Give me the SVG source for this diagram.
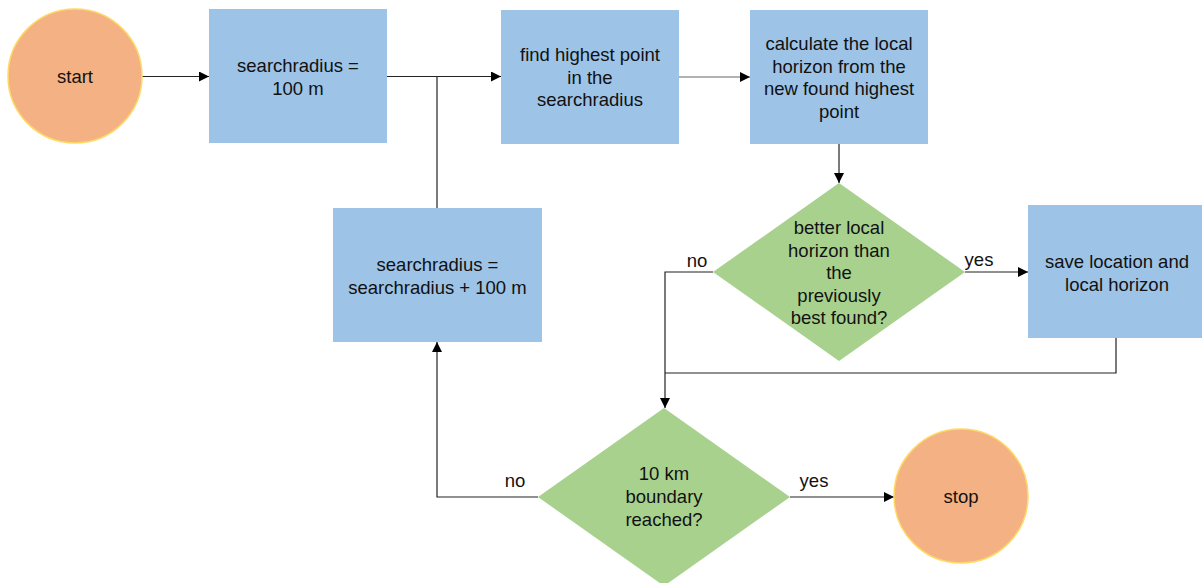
<svg xmlns="http://www.w3.org/2000/svg" width="1202" height="583" viewBox="0 0 1202 583">
<defs>
<marker id="arr" viewBox="0 0 10 10" refX="10" refY="5" markerWidth="10" markerHeight="10" markerUnits="userSpaceOnUse" orient="auto">
<path d="M0,0 L10,5 L0,10 Z" fill="#000"/>
</marker>
<style>
.box{fill:#9DC3E6;}
.dia{fill:#A9D18E;}
.term{fill:#F4B183;stroke:#FFD966;stroke-width:1.5;}
text{font-family:"Liberation Sans",Arial,sans-serif;font-size:18.5px;fill:#111;text-anchor:middle;}
.c{fill:none;stroke:#222;stroke-width:1.2;}
</style>
</defs>
<rect width="1202" height="583" fill="#fff"/>
<g id="connectors">
<path class="c" d="M142,76.5 H209" marker-end="url(#arr)"/>
<path class="c" d="M387,76.5 H501" marker-end="url(#arr)"/>
<path class="c" d="M437,208 V77"/>
<path class="c" d="M679,77 H750" marker-end="url(#arr)" style="stroke:#666"/>
<path class="c" d="M839,144 V183" marker-end="url(#arr)"/>
<path class="c" d="M965,272 H1028" marker-end="url(#arr)"/>
<path class="c" d="M713,272 H665 V408" marker-end="url(#arr)"/>
<path class="c" d="M1116,338 V373 H665"/>
<path class="c" d="M790,497 H894" marker-end="url(#arr)"/>
<path class="c" d="M538,497 H437 V342" marker-end="url(#arr)"/>
<text x="697" y="267">no</text>
<text x="979" y="266">yes</text>
<text x="515" y="487">no</text>
<text x="814" y="487">yes</text>
</g>
<g id="start">
<circle class="term" cx="75" cy="76" r="67"/>
<text x="75" y="83">start</text>
</g>
<g id="init">
<rect class="box" x="209" y="9" width="178" height="134"/>
<text x="298" y="72">searchradius =</text>
<text x="298" y="95">100 m</text>
</g>
<g id="find">
<rect class="box" x="501" y="10" width="178" height="134"/>
<text x="590" y="61">find highest point</text>
<text x="590" y="83.5">in the</text>
<text x="590" y="106">searchradius</text>
</g>
<g id="calc">
<rect class="box" x="750" y="10" width="178" height="134"/>
<text x="839" y="50">calculate the local</text>
<text x="839" y="72.5">horizon from the</text>
<text x="839" y="95">new found highest</text>
<text x="839" y="117.5">point</text>
</g>
<g id="better">
<polygon class="dia" points="839,183 965,272 839,361 713,272"/>
<text x="839" y="234">better local</text>
<text x="839" y="256.5">horizon than</text>
<text x="839" y="279">the</text>
<text x="839" y="301.5">previously</text>
<text x="839" y="324">best found?</text>
</g>
<g id="save">
<rect class="box" x="1028" y="205" width="178" height="133"/>
<text x="1117" y="268">save location and</text>
<text x="1117" y="291">local horizon</text>
</g>
<g id="increase">
<rect class="box" x="333" y="208" width="209" height="134"/>
<text x="437.5" y="271">searchradius =</text>
<text x="437.5" y="293.5">searchradius + 100 m</text>
</g>
<g id="boundary">
<polygon class="dia" points="664,408 790,497 664,586 538,497"/>
<text x="664" y="480">10 km</text>
<text x="664" y="503">boundary</text>
<text x="664" y="526">reached?</text>
</g>
<g id="stop">
<circle class="term" cx="961" cy="496" r="67"/>
<text x="961" y="503">stop</text>
</g>
</svg>
